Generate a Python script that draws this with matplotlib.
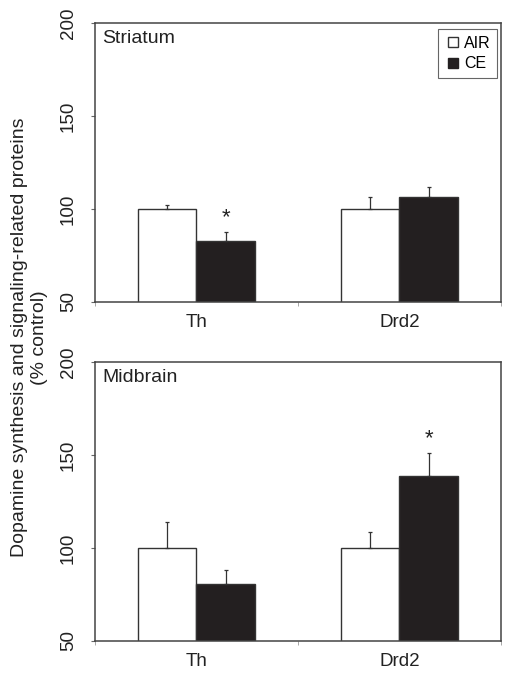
import numpy as np
import matplotlib.pyplot as plt
from matplotlib.lines import Line2D

plt.rcParams['font.family'] = ['Liberation Sans', 'DejaVu Sans']

genes = ["Th", "Drd2"]
groups = ["AIR", "CE"]

# striatum, % control
striatum_air = [100, 100]
striatum_air_err = [2.3, 6.3]
striatum_ce = [82.8, 106.6]
striatum_ce_err = [5.0, 5.1]
striatum_sig = [True, False]

# midbrain, % control
midbrain_air = [100, 100]
midbrain_air_err = [14.1, 8.4]
midbrain_ce = [80.9, 138.7]
midbrain_ce_err = [7.2, 12.6]
midbrain_sig = [False, True]

edge = "#333333"
dark = "#231f20"

fig = plt.figure(figsize=(5.12, 6.75), dpi=100)
ax1 = fig.add_axes([0.1855, 0.5526, 0.793, 0.4133])
ax2 = fig.add_axes([0.1855, 0.0504, 0.793, 0.4133])

panels = [
    (ax1, "Striatum", striatum_air, striatum_air_err, striatum_ce, striatum_ce_err, striatum_sig),
    (ax2, "Midbrain", midbrain_air, midbrain_air_err, midbrain_ce, midbrain_ce_err, midbrain_sig),
]

x = np.arange(len(genes))
w = 0.288

for ax, name, air, air_err, ce, ce_err, sig in panels:
    ax.bar(x - w / 2, air, w, color="white", edgecolor=edge, linewidth=1.0, zorder=2)
    ax.bar(x + w / 2, ce, w, color=dark, edgecolor=edge, linewidth=1.0, zorder=2)
    # one-sided error bars
    ax.errorbar(x - w / 2, air, yerr=[np.zeros(len(air)), air_err], fmt="none",
                ecolor=edge, elinewidth=0.9, capsize=1.5, capthick=0.9, zorder=3)
    ax.errorbar(x + w / 2, ce, yerr=[np.zeros(len(ce)), ce_err], fmt="none",
                ecolor=edge, elinewidth=0.9, capsize=1.5, capthick=0.9, zorder=3)
    for i in range(len(genes)):
        if sig[i]:
            ax.text(x[i] + w / 2, ce[i] + ce_err[i] + 7.5, "*", ha="center", va="center",
                    fontsize=16, color="#222222")

    ax.set_ylim(50, 200)
    ax.set_xlim(-0.5, 1.5)
    ax.set_yticks([50, 100, 150, 200])
    ax.set_yticklabels(["50", "100", "150", "200"], rotation=90, va="center")
    ax.set_xticks(x)
    ax.set_xticklabels(genes)
    ax.set_xticks([-0.5, 0.5, 1.5], minor=True)
    ax.tick_params(axis="x", which="major", length=0, pad=9, labelsize=13.5, colors="#222222")
    ax.tick_params(axis="x", which="minor", length=3, direction="out", color="#999999")
    ax.tick_params(axis="y", length=3, direction="out", pad=10, labelsize=13.5,
                   colors="#222222", color="#666666")
    for s in ax.spines.values():
        s.set_color("#444444")
        s.set_linewidth(1.1)
    ax.text(0.017, 0.975, name, transform=ax.transAxes, ha="left", va="top",
            fontsize=14, color="#222222")

handles = [
    Line2D([], [], linestyle="none", marker="s", markersize=6.5,
           markerfacecolor="white", markeredgecolor=edge, markeredgewidth=1.0),
    Line2D([], [], linestyle="none", marker="s", markersize=6.5,
           markerfacecolor=dark, markeredgecolor=dark),
]
leg = ax1.legend(handles, groups, loc="upper right", bbox_to_anchor=(0.99, 0.977),
                 fontsize=11.5, handlelength=1.1, handletextpad=0.15,
                 borderpad=0.4, labelspacing=0.35, fancybox=False, framealpha=1,
                 borderaxespad=0)
leg.get_frame().set_edgecolor("#666666")
leg.get_frame().set_linewidth(0.8)

fig.text(0.058, 0.5, "Dopamine synthesis and signaling-related proteins\n(% control)",
         rotation=90, ha="center", va="center", fontsize=14, color="#222222",
         multialignment="center", linespacing=1.2)

fig.savefig("out.png", dpi=100)
